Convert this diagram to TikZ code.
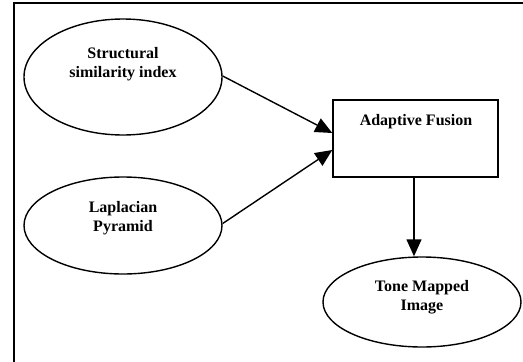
\documentclass[tikz,border=0pt]{standalone}
\usepackage{fontspec}
\setmainfont{Liberation Serif}
\usetikzlibrary{shapes.geometric,arrows.meta}
\begin{document}
\begin{tikzpicture}[x=1pt,y=-1pt,
  shp/.style={draw=black,line width=1.4pt,inner sep=0pt},
  ell/.style={shp,ellipse},
  txt/.style={font=\bfseries\fontsize{16}{19}\selectfont,align=center,inner sep=0pt},
  conn/.style={line width=1.4pt,-{Triangle[length=17pt,width=15pt]}}]
\useasboundingbox (0,0) rectangle (523,362);
\draw[line width=1.8pt] (14,3) rectangle (530,370);
\node[ell,minimum width=198,minimum height=116] (e1) at (123,77) {};
\node[ell,minimum width=198,minimum height=97] (e2) at (123,225.5) {};
\node[shp,rectangle,minimum width=165,minimum height=77] (f) at (415.5,138.5) {};
\node[ell,minimum width=198,minimum height=90] (e3) at (422,302) {};
\node[txt] (t1) at (123,64) {Structural\\similarity index};
\node[txt] (t2) at (123,218.5) {Laplacian\\Pyramid};
\node[txt] (t3) at (416,121.5) {Adaptive Fusion};
\node[txt] (t4) at (422,297) {Tone Mapped\\Image};
\draw[conn] ([yshift=1pt]e1.east) -- ([yshift=5.5pt]f.west);
\draw[conn] ([yshift=2pt]e2.east) -- ([yshift=-11.5pt]f.west);
\draw[conn] ([xshift=-1.5pt]f.south) -- ([xshift=-8pt]e3.north);
\end{tikzpicture}
\end{document}
